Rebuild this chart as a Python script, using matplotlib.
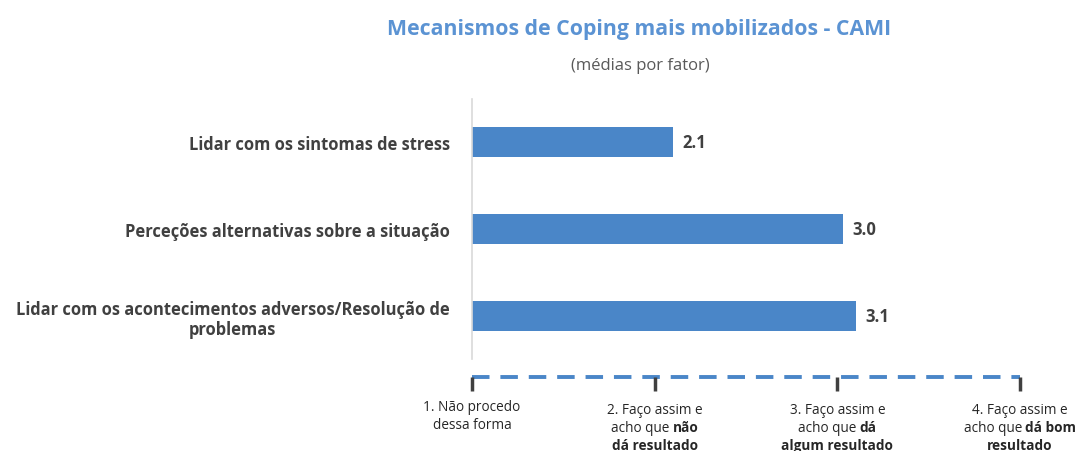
import matplotlib.pyplot as plt
from matplotlib import transforms

categories = [
    "Lidar com os sintomas de stress",
    "Perceções alternativas sobre a situação",
    "Lidar com os acontecimentos adversos/Resolução de\nproblemas",
]
values = [2.1, 3.03, 3.1]
scale_ticks = [1, 2, 3, 4]
# each scale label: list of lines, each line a list of (text, weight) pieces
scale_labels = [
    [[("1. Não procedo", "normal")], [("dessa forma", "normal")]],
    [[("2. Faço assim e", "normal")], [("acho que ", "normal"), ("não", "bold")], [("dá resultado", "bold")]],
    [[("3. Faço assim e", "normal")], [("acho que ", "normal"), ("dá", "bold")], [("algum resultado", "bold")]],
    [[("4. Faço assim e", "normal")], [("acho que ", "normal"), ("dá bom", "bold")], [("resultado", "bold")]],
]

title = "Mecanismos de Coping mais mobilizados - CAMI"
subtitle = "(médias por fator)"

bar_color = "#4a86c8"
title_color = "#5b93d3"
text_color = "#404040"

plt.rcParams['font.family'] = ['Open Sans', 'DejaVu Sans']

W, H = 1077, 452
fig = plt.figure(figsize=(W / 100, H / 100), dpi=100)

def fx(px):
    return px / W

def fy(py):
    return 1 - py / H

# main bar axes
x0, x1 = 472, 1020
ax = fig.add_axes([fx(x0), fy(360), fx(x1 - x0), (360 - 100) / H])
ypos = list(range(len(categories)))
ax.barh(ypos, [v - 1 for v in values], left=1, height=0.345, color=bar_color)
ax.set_xlim(1, 4)
ax.set_ylim(2.5, -0.5)
ax.set_yticks(ypos)
ax.set_yticklabels(categories, fontsize=11.9, fontweight='bold', color=text_color,
                   multialignment='center', linespacing=1.15)
ax.tick_params(axis='y', length=0, pad=16)
ax.set_xticks([])
for s in ['top', 'right', 'bottom']:
    ax.spines[s].set_visible(False)
ax.spines['left'].set_color('#d9d9d9')
ax.spines['left'].set_linewidth(1.2)

for y, v in zip(ypos, values):
    ax.annotate(f"{v:.1f}", (v, y), xytext=(7, 0), textcoords='offset points',
                ha='left', va='center', fontsize=12, fontweight='bold', color=text_color)

# bottom response scale
ax2 = fig.add_axes([fx(x0), fy(392), fx(x1 - x0), 14 / H])
ax2.set_xlim(1, 4)
ax2.set_ylim(0, 1)
ax2.axis('off')
ax2.plot([1, 4], [1, 1], color=bar_color, lw=2.8, ls=(0, (4.5, 2.8)), clip_on=False)
ax2.vlines(scale_ticks, 0, 1, color='#404040', lw=2.5, clip_on=False)

renderer = fig.canvas.get_renderer()
line_step = 17.5
for tick, lines in zip(scale_ticks, scale_labels):
    top = 408 if tick == 1 else 411
    for i, pieces in enumerate(lines):
        yy = fy(top + i * line_step)
        texts = [fig.text(0, yy, t, fontsize=9.8, fontweight=w, color='#262626',
                          va='center', ha='left') for t, w in pieces]
        widths = [t.get_window_extent(renderer).width for t in texts]
        cx = ax2.transData.transform((tick, 0))[0]
        start = cx - sum(widths) / 2
        for t, wdt in zip(texts, widths):
            t.set_x(start / W)
            start += wdt

fig.text(fx(639), fy(29), title, ha='center', va='center', fontsize=15.3,
         fontweight='bold', color=title_color)
fig.text(fx(640), fy(66), subtitle, ha='center', va='center', fontsize=12,
         color='#595959')

fig.savefig('out.png', dpi=100)
